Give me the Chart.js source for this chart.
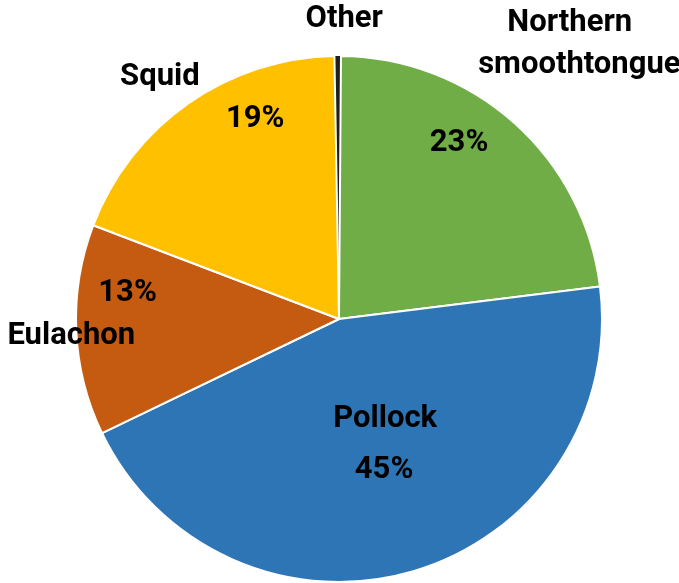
<!DOCTYPE html>
<html>
<head>
<meta charset="utf-8">
<script src="https://cdn.jsdelivr.net/npm/chart.js@4"></script>
<style>
  html, body { margin: 0; padding: 0; background: #ffffff; }
  #wrap { width: 679px; height: 583px; }
</style>
</head>
<body>
<div id="wrap"><canvas id="pie" width="679" height="583"></canvas></div>
<script>
// catch composition by species, percent
const species = ["Other", "Northern smoothtongue", "Pollock", "Eulachon", "Squid"];
const shares = [0.4, 23, 45, 13, 19];
const sliceColors = ["#1e1e1e", "#70ad47", "#2e75b6", "#c55a11", "#ffc000"];

// text drawn on/around the pie: lines, angle (deg clockwise from top), radius as fraction of pie radius
const labelLines = [
    { text: "Other", angle: 1, r: 1.14 },
    { text: "Northern", angle: 38, r: 1.425 },
    { text: "smoothtongue", angle: 43.4, r: 1.33 },
    { text: "23%", angle: 34.3, r: 0.81 },
    { text: "Pollock", angle: 155.3, r: 0.42 },
    { text: "45%", angle: 163.4, r: 0.6 },
    { text: "13%", angle: 277, r: 0.81 },
    { text: "Eulachon", angle: 266.4, r: 1.02 },
    { text: "Squid", angle: 323.5, r: 1.145 },
    { text: "19%", angle: 337.3, r: 0.825 }
];

const pieLabels = {
    id: "pieLabels",
    afterDatasetsDraw(chart) {
        const arc = chart.getDatasetMeta(0).data[0];
        const cx = arc.x, cy = arc.y, R = arc.outerRadius;
        const c = chart.ctx;
        c.save();
        c.font = "bold 31px Roboto";
        c.fillStyle = "#000000";
        c.textAlign = "center";
        c.textBaseline = "middle";
        labelLines.forEach(function (l) {
            const a = l.angle * Math.PI / 180;
            c.fillText(l.text, cx + Math.sin(a) * R * l.r, cy - Math.cos(a) * R * l.r);
        });
        c.restore();
    }
};

new Chart(document.getElementById("pie"), {
    type: "pie",
    data: {
        labels: species,
        datasets: [{
            data: shares,
            backgroundColor: sliceColors,
            borderColor: "#ffffff",
            borderWidth: [0, 2, 2, 2, 2]
        }]
    },
    options: {
        responsive: false,
        animation: false,
        rotation: -1,
        layout: { padding: { top: 55, bottom: 0, left: 75, right: 76 } },
        plugins: {
            legend: { display: false },
            tooltip: { enabled: false }
        }
    },
    plugins: [pieLabels]
});
</script>
</body>
</html>
